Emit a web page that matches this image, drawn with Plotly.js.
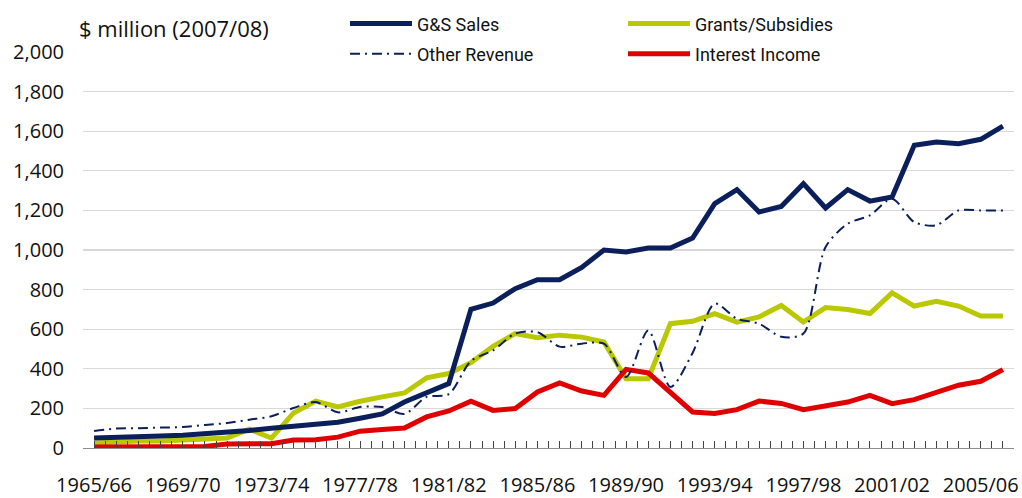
<!DOCTYPE html>
<html>
<head>
<meta charset="utf-8">
<script src="https://cdn.plot.ly/plotly-3.0.1.min.js"></script>
<style>html,body{margin:0;padding:0;background:#fff;}#chart{width:1022px;height:498px;}</style>
</head>
<body>
<div id="chart"></div>
<script>
const years = ["1965/66","1966/67","1967/68","1968/69","1969/70","1970/71","1971/72","1972/73","1973/74","1974/75",
  "1975/76","1976/77","1977/78","1978/79","1979/80","1980/81","1981/82","1982/83","1983/84","1984/85",
  "1985/86","1986/87","1987/88","1988/89","1989/90","1990/91","1991/92","1992/93","1993/94","1994/95",
  "1995/96","1996/97","1997/98","1998/99","1999/00","2000/01","2001/02","2002/03","2003/04","2004/05",
  "2005/06","2006/07"];
const tickLabels = ["1965/66","1969/70","1973/74","1977/78","1981/82","1985/86","1989/90","1993/94","1997/98","2001/02","2005/06"];
const gsSales = [50,52,55,60,65,72,80,88,100,110,120,130,150,172,232,280,325,700,732,805,850,850,912,1000,990,1010,1010,1060,1234,1305,1192,1220,1335,1212,1305,1247,1268,1529,1545,1537,1559,1626];
const grants = [25,33,35,35,38,42,50,95,50,177,237,207,236,258,278,354,376,431,514,578,557,570,560,535,350,350,628,640,679,636,662,720,636,709,699,679,783,717,741,717,667,667];
const otherRevenue = [86,98,100,103,106,116,126,143,160,202,232,180,207,207,172,258,272,440,493,578,585,512,527,527,359,594,308,480,729,653,628,562,578,1015,1133,1175,1259,1141,1125,1200,1200,1200];
const interestIncome = [5,5,5,5,5,8,20,22,22,40,42,55,85,93,101,157,187,236,190,199,283,329,288,266,397,379,283,182,174,194,237,225,194,212,232,266,224,244,283,317,337,396];

const NAVY = "#0b1f5a", LIME = "#b9c800", RED = "#e00000";

// category index positions, used only to carry the half-category tick marks axis
const yearIndex = years.map((_, i) => i);

const traces = [
  {x: yearIndex, y: gsSales, xaxis: "x2", mode: "none", type: "scatter",
   showlegend: false, hoverinfo: "skip"},
  {x: years, y: grants, name: "Grants/Subsidies", type: "scatter", mode: "lines",
   line: {color: LIME, width: 5}, legend: "legend2", legendgroup: "g2", legendrank: 1},
  {x: years, y: interestIncome, name: "Interest Income", type: "scatter", mode: "lines",
   line: {color: RED, width: 5}, legend: "legend2", legendgroup: "g4", legendrank: 2},
  {x: years, y: otherRevenue, name: "Other Revenue", type: "scatter", mode: "lines",
   line: {color: NAVY, width: 2, dash: "10px,5px,2px,5px", shape: "spline", smoothing: 0.8},
   legend: "legend", legendgroup: "g3", legendrank: 2},
  {x: years, y: gsSales, name: "G&S Sales", type: "scatter", mode: "lines",
   line: {color: NAVY, width: 5}, legend: "legend", legendgroup: "g1", legendrank: 1}
];

const tickFont = {family: "Open Sans, sans-serif", size: 20, color: "#111"};
const legendFont = {family: "Roboto, Open Sans, sans-serif", size: 18, color: "#111"};

const legendBase = {
  orientation: "v", yanchor: "top", y: 1.118, xanchor: "left",
  font: legendFont, itemwidth: 62, bgcolor: "#ffffff", borderwidth: 0,
  traceorder: "grouped", tracegroupgap: 4, itemclick: false, itemdoubleclick: false
};

const layout = {
  width: 1022, height: 498,
  margin: {l: 83, r: 8, t: 52, b: 50, autoexpand: false},
  paper_bgcolor: "#fff", plot_bgcolor: "#fff",
  showlegend: true,
  legend: Object.assign({}, legendBase, {x: 0.2814, entrywidth: 206, entrywidthmode: "pixels"}),
  legend2: Object.assign({}, legendBase, {x: 0.580, entrywidth: 300, entrywidthmode: "pixels"}),
  xaxis: {
    type: "category", categoryorder: "array", categoryarray: years,
    range: [-0.5, years.length - 0.5],
    tickmode: "array", tickvals: tickLabels, ticktext: tickLabels,
    ticks: "", showgrid: false, zeroline: false,
    showline: true, linecolor: "#8c8c8c", linewidth: 1,
    tickfont: tickFont, ticklabelstandoff: 19, fixedrange: true
  },
  xaxis2: {
    overlaying: "x", anchor: "y", side: "bottom", type: "linear",
    range: [-0.5, years.length - 0.5], tickmode: "linear", tick0: -0.5, dtick: 0.5,
    ticks: "inside", ticklen: 7, tickwidth: 1, tickcolor: "#444",
    showticklabels: false, showgrid: false, zeroline: false, showline: false, fixedrange: true
  },
  yaxis: {
    range: [0, 2000], tickmode: "linear", tick0: 0, dtick: 200, tickformat: ",d",
    showgrid: true, gridcolor: "#d9d9d9", gridwidth: 1.2,
    zeroline: false, showline: false, ticks: "",
    tickfont: tickFont, ticklabelstandoff: 18, fixedrange: true
  },
  annotations: [{
    text: "$ million (2007/08)", xref: "paper", yref: "paper",
    x: -0.006, xanchor: "left", y: 1.06, yanchor: "middle", showarrow: false,
    font: {family: "Open Sans, sans-serif", size: 22, color: "#111"}
  }]
};

Plotly.newPlot("chart", traces, layout, {displayModeBar: false, staticPlot: true});
</script>
</body>
</html>
